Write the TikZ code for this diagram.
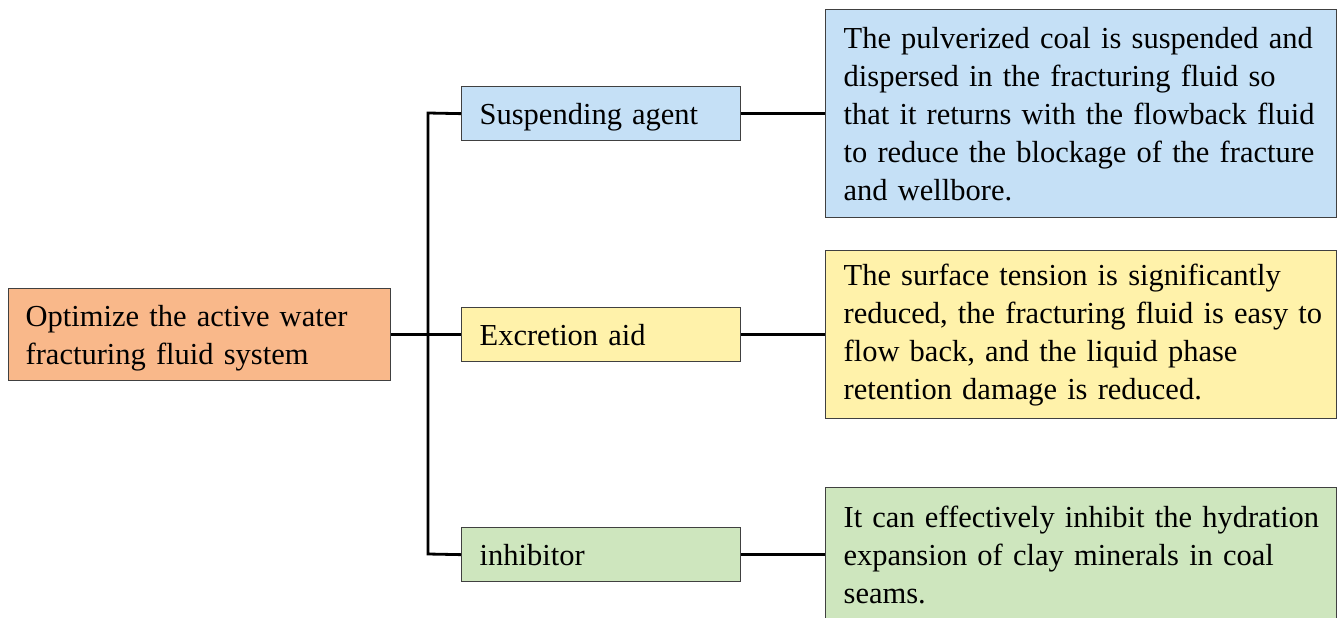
\documentclass[tikz,border=0pt]{standalone}
\usepackage{fontspec}
\setmainfont{Liberation Serif}
\definecolor{rootfill}{RGB}{249,184,138}
\definecolor{bluefill}{RGB}{197,224,246}
\definecolor{yellowfill}{RGB}{255,242,170}
\definecolor{greenfill}{RGB}{206,230,190}
\definecolor{edge}{RGB}{64,64,64}
\newcommand{\topstrut}{\rule{0pt}{29pt}}
\newcommand{\botstrut}{\rule[-7pt]{0pt}{7pt}}
\begin{document}
\begin{tikzpicture}[x=1pt,y=-1pt,
  box/.style={draw=edge, line width=1.3pt, anchor=north west, inner xsep=17pt, inner ysep=0pt,
    align=left, font=\fontsize{30.5}{38}\selectfont},
  link/.style={line width=2.8pt, black, line join=miter}]
\useasboundingbox (0,0) rectangle (1338,618);
\clip (0,0) rectangle (1338,618);
% root
\node[box, fill=rootfill, text width=348pt, minimum height=92pt] (root) at (8,288)
  {\topstrut\mbox{Optimize the active water}\\\mbox{fracturing fluid system}\botstrut};
% middle
\node[box, fill=bluefill, inner xsep=18pt, text width=243pt, minimum height=54pt] (sa) at (461,86) {\topstrut Suspending agent\botstrut};
\node[box, fill=yellowfill, inner xsep=18pt, text width=243pt, minimum height=54pt] (ea) at (461,307) {\topstrut Excretion aid\botstrut};
\node[box, fill=greenfill, inner xsep=18pt, text width=243pt, minimum height=54pt] (inh) at (461,527) {\topstrut inhibitor\botstrut};
% right
\node[box, fill=bluefill, inner xsep=18pt, text width=475pt, minimum height=208pt] (sad) at (825,9)
  {\mbox{The pulverized coal is suspended and}\\\mbox{dispersed in the fracturing fluid so}\\\mbox{that it returns with the flowback fluid}\\\mbox{to reduce the blockage of the fracture}\\\mbox{and wellbore.}};
\node[box, fill=yellowfill, inner xsep=18pt, text width=475pt, minimum height=168pt] (ead) at (825,250)
  {\mbox{The surface tension is significantly}\\\mbox{reduced, the fracturing fluid is easy to}\\\mbox{flow back, and the liquid phase}\\\mbox{retention damage is reduced.}};
\node[box, fill=greenfill, inner xsep=18pt, text width=475pt, minimum height=134pt] (inhd) at (825,487)
  {\mbox{It can effectively inhibit the hydration}\\\mbox{expansion of clay minerals in coal}\\\mbox{seams.}};
% connectors
\coordinate (jt) at (428,113);
\coordinate (jb) at (428,554);
\draw[link] (sa.west) -- (jt) -- (jb) -- (inh.west);
\draw[link] (root.east) -- (ea.west);
\draw[link] (sa.east) -- (sad.west);
\draw[link] (ea.east) -- (ead.west);
\draw[link] (inh.east) -- (inhd.west);
\end{tikzpicture}
\end{document}
